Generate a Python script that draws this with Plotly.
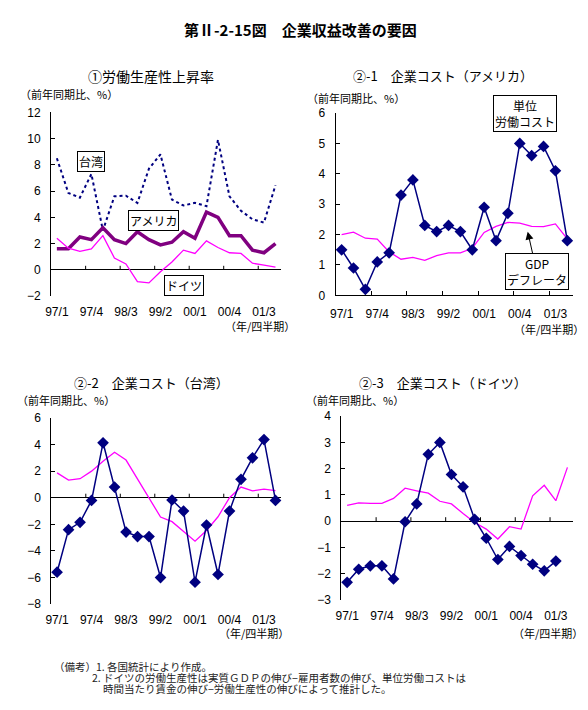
import plotly.graph_objects as go

W, H = 588, 710

quarters = ["97/1", "97/2", "97/3", "97/4", "98/1", "98/2", "98/3", "98/4",
            "99/1", "99/2", "99/3", "99/4", "00/1", "00/2", "00/3", "00/4",
            "01/1", "01/2", "01/3", "01/4"]
tick_labels = ["97/1", "97/4", "98/3", "99/2", "00/1", "00/4", "01/3"]

# ① labour productivity growth
prod_taiwan = [8.5, 5.85, 5.5, 7.3, 3.0, 5.6, 5.65, 5.1, 7.7, 8.8,
               5.35, 4.9, 5.1, 4.85, 9.9, 5.6, 4.5, 3.85, 3.6, 6.45]
prod_usa = [1.6, 1.6, 2.5, 2.3, 3.2, 2.3, 2.0, 2.9, 2.3, 1.9,
            2.1, 2.9, 2.4, 4.4, 4.0, 2.6, 2.6, 1.5, 1.3, 2.0]
prod_germany = [2.4, 1.65, 1.4, 1.6, 2.6, 0.9, 0.45, -0.9, -1.0, -0.15,
                0.6, 1.5, 1.25, 2.2, 1.7, 1.3, 1.25, 0.5, 0.35, 0.2]

# ②-1 USA: unit labour cost / GDP deflator
usa_ulc = [1.5, 0.9, 0.2, 1.1, 1.4, 3.3, 3.8, 2.3, 2.1, 2.3,
           2.1, 1.5, 2.9, 1.8, 2.7, 5.0, 4.6, 4.9, 4.1, 1.8]
usa_deflator = [2.0, 2.08, 1.88, 1.85, 1.43, 1.19, 1.25, 1.15, 1.31, 1.4,
                1.4, 1.55, 2.07, 2.27, 2.4, 2.38, 2.27, 2.26, 2.35, 1.86]

# ②-2 Taiwan
tw_ulc = [-5.6, -2.4, -1.85, -0.2, 4.13, 0.8, -2.58, -2.92, -2.92, -6.0,
          -0.17, -1.0, -6.35, -2.05, -5.77, -1.0, 1.38, 3.0, 4.37, -0.2]
tw_deflator = [1.87, 1.33, 1.43, 2.0, 2.75, 3.42, 2.83, 1.4, 0.0, -1.45,
               -1.8, -2.53, -3.27, -2.46, -1.43, 0.0, 0.8, 0.52, 0.64, 0.54]

# ②-3 Germany
de_ulc = [-2.33, -1.83, -1.7, -1.7, -2.2, -0.02, 0.66, 2.55, 3.0, 1.78,
          1.31, 0.07, -0.65, -1.46, -0.96, -1.31, -1.64, -1.89, -1.52, None]
de_deflator = [0.6, 0.7, 0.68, 0.68, 0.87, 1.26, 1.16, 1.07, 0.76, 0.66,
               0.29, -0.05, -0.3, -0.68, -0.21, -0.3, 0.97, 1.37, 0.78, 2.05]

xs = list(range(len(quarters)))
tick_pos = [quarters.index(t) for t in tick_labels]
bound_pos = [p - 0.5 for p in tick_pos[1:]]

NAVY = "#000080"
MAG = "#FF00FF"
PURPLE = "#800080"
FONT = "Liberation Sans, Noto Sans CJK JP, sans-serif"
JFONT = "Noto Sans CJK JP, sans-serif"


def fx(p):
    return p / W


def fy(p):
    return 1 - p / H


# pixel boxes: left, top, right, bottom, y range, dtick
panels = [
    (37.5, 99.3, 270, 286.7, (-2, 12), 2),
    (325, 100, 565, 286, (0, 6), 1),
    (37.7, 411, 270, 601, (-8, 6), 2),
    (330.7, 409.3, 565, 596.7, (-3, 4), 1),
]

fig = go.Figure()

series = [
    (1, prod_taiwan, dict(color=NAVY, width=2, dash="dot"), None),
    (1, prod_usa, dict(color=PURPLE, width=3.5), None),
    (1, prod_germany, dict(color=MAG, width=1.3), None),
    (2, usa_deflator, dict(color=MAG, width=1.3), None),
    (2, usa_ulc, dict(color=NAVY, width=1.5), "diamond"),
    (3, tw_deflator, dict(color=MAG, width=1.3), None),
    (3, tw_ulc, dict(color=NAVY, width=1.5), "diamond"),
    (4, de_deflator, dict(color=MAG, width=1.3), None),
    (4, de_ulc, dict(color=NAVY, width=1.5), "diamond"),
]
for k, vals, line, sym in series:
    sfx = "" if k == 1 else str(k)
    fig.add_trace(go.Scatter(
        x=xs, y=vals, xaxis="x" + sfx, yaxis="y" + sfx,
        mode="lines+markers" if sym else "lines", line=line,
        marker=dict(symbol=sym, size=9, color=NAVY) if sym else None,
        showlegend=False, cliponaxis=False))

layout = dict(width=W, height=H, margin=dict(l=0, r=0, t=0, b=0),
              paper_bgcolor="white", plot_bgcolor="white",
              font=dict(family=FONT, color="black", size=12),
              showlegend=False)
shapes = []
for i, (l, t, r, b, yr, dt) in enumerate(panels):
    k = i + 1
    sfx = "" if k == 1 else str(k)
    crosses = yr[0] < 0
    layout["xaxis" + sfx] = dict(
        domain=[fx(l), fx(r)], anchor="y" + sfx, range=[-0.5, len(xs) - 0.5],
        tickmode="array", tickvals=tick_pos, ticktext=tick_labels,
        ticks="", showgrid=False, zeroline=False,
        showline=not crosses, linecolor="black", linewidth=1,
        minor=dict(tickmode="array", tickvals=bound_pos, ticks="inside",
                   ticklen=4, tickcolor="black", showgrid=False) if not crosses else None,
        tickfont=dict(size=12), ticklabelstandoff=7)
    layout["yaxis" + sfx] = dict(
        domain=[fy(b), fy(t)], anchor="x" + sfx, range=list(yr), dtick=dt,
        showline=True, linecolor="black", linewidth=1, mirror=False,
        ticks="inside", ticklen=4, tickcolor="black", showgrid=False,
        zeroline=crosses, zerolinecolor="black", zerolinewidth=1,
        tickfont=dict(size=12), ticklabelstandoff=7)
    if crosses:
        for bp in bound_pos:
            shapes.append(dict(type="line", xref="x" + sfx, yref="y" + sfx,
                               x0=bp, x1=bp, ysizemode="pixel", yanchor=0,
                               y0=0, y1=4, line=dict(color="black", width=1)))
layout["shapes"] = shapes

ann = []


def text(x, y, s, size=11, xanchor="center", **kw):
    ann.append(dict(x=fx(x), y=fy(y), xref="paper", yref="paper", text=s,
                    showarrow=False, xanchor=xanchor, yanchor="middle",
                    font=dict(family=JFONT, size=size, color=kw.pop("color", "black")),
                    **kw))


text(289, 15, "<b>第Ⅱ-2-15図　企業収益改善の要因</b>", size=15)

text(138, 62, "①労働生産性上昇率", size=14)
text(433, 62, "②-1　企業コスト（アメリカ）", size=13)
text(139, 375, "②-2　企業コスト（台湾）", size=13)
text(433, 375, "②-3　企業コスト（ドイツ）", size=13)

for x, y in [(56, 81), (346, 85), (53, 393), (345, 393)]:
    text(x, y, "（前年同期比、%）", size=11)
for x, y in [(286, 317), (578, 320), (280, 630), (577, 630)]:
    text(x, y, "（年/四半期）", size=11, xanchor="right")

box = dict(bordercolor="black", borderwidth=1, bgcolor="white", borderpad=1)
text(77.5, 149, "台湾", size=12, **box)
text(140.5, 210, "アメリカ", size=12, **box)
text(171.5, 276, "ドイツ", size=12, **box)
text(516, 100, "単位<br>労働コスト", size=12, **box)
ann.append(dict(x=fx(519), y=fy(221), xref="paper", yref="paper",
                text="GDP<br>デフレータ", showarrow=True, arrowhead=2,
                arrowsize=1.6, arrowwidth=1, arrowcolor="black",
                ax=9, ay=40, font=dict(family=JFONT, size=12, color="black"),
                **box))

text(38, 664.5, "（備考）1. 各国統計により作成。", size=10.5, xanchor="left", color="#222")
text(77, 676, "2. ドイツの労働生産性は実質ＧＤＰの伸び−雇用者数の伸び、単位労働コストは",
     size=10.5, xanchor="left", color="#222")
text(88, 687.5, "時間当たり賃金の伸び−労働生産性の伸びによって推計した。",
     size=10.5, xanchor="left", color="#222")

layout["annotations"] = ann
fig.update_layout(**layout)
fig.write_html("out.html")
